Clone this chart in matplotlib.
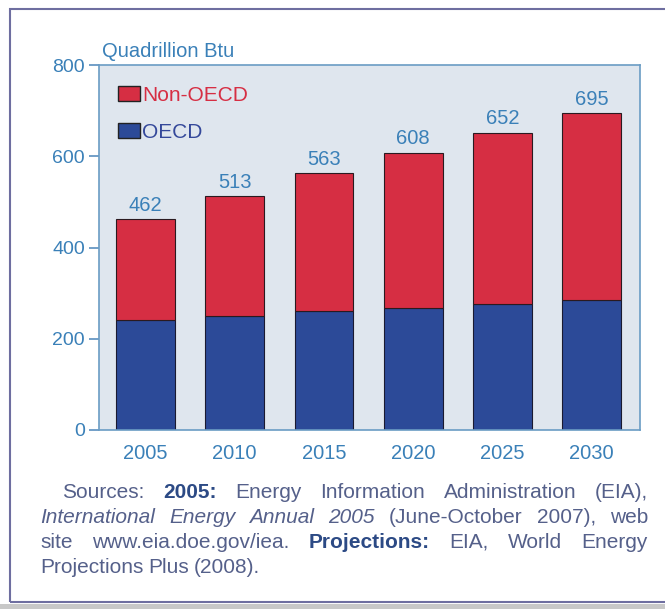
import matplotlib.pyplot as plt
from matplotlib.patches import Patch, Rectangle

years = ['2005', '2010', '2015', '2020', '2025', '2030']
oecd = [241, 250, 260, 268, 276, 284]
non_oecd = [221, 263, 303, 340, 376, 411]
totals = [462, 513, 563, 608, 652, 695]

red = '#d62e43'
blue = '#2c4a98'
txt_blue = '#3a80b8'
plt.rcParams['font.family'] = ['Liberation Sans', 'DejaVu Sans']

W, H = 665, 609
fig = plt.figure(figsize=(W / 100, H / 100), dpi=100)
ax = fig.add_axes([99 / W, 1 - 430 / H, (640 - 99) / W, (430 - 65) / H])
ax.set_facecolor('#dfe6ee')

x = list(range(len(years)))
ax.bar(x, oecd, width=0.66, color=blue, edgecolor='#1a1a30', linewidth=0.8)
ax.bar(x, non_oecd, bottom=oecd, width=0.66, color=red, edgecolor='#2a1a20', linewidth=0.8)
for i, t in enumerate(totals):
    ax.annotate(str(t), (x[i], t), xytext=(0, 6), textcoords='offset points',
                ha='center', va='baseline', color=txt_blue, fontsize=14.5)

ax.set_xlim(-0.52, 5.54)
ax.set_ylim(0, 800)
ax.set_yticks([0, 200, 400, 600, 800])
ax.set_xticks(x)
ax.set_xticklabels(years)
ax.tick_params(axis='y', colors='#5a8fbf', labelcolor=txt_blue, labelsize=14, length=7, width=1.2, pad=3)
ax.tick_params(axis='x', length=0, labelcolor=txt_blue, labelsize=14.5, pad=10)
for s in ax.spines.values():
    s.set_color('#6a9cc4')
    s.set_linewidth(1.2)

ax.text(3 / 541, 1.022, 'Quadrillion Btu', transform=ax.transAxes, color=txt_blue, fontsize=14.5, va='baseline')

leg = ax.legend(handles=[Patch(fc=red, ec='#222'), Patch(fc=blue, ec='#222')],
                labels=['Non-OECD', 'OECD'], labelcolor=[red, '#34489a'],
                loc='upper left', bbox_to_anchor=(0.028, 0.955), frameon=False,
                fontsize=15, handlelength=1.05, handleheight=0.7, handletextpad=0.1,
                labelspacing=0.86, borderaxespad=0.0, borderpad=0.2)

# outer frame and bottom strip
fig.patches.append(Rectangle((10 / W, 1 - 602 / H), 1, (602 - 9) / H, transform=fig.transFigure,
                             fill=False, ec='#6e6ea0', lw=1.5))
fig.patches.append(Rectangle((0, 0), 1, 5 / H, transform=fig.transFigure,
                             fc='#c8c8c8', ec='none'))

# justified source note
lines = [
    [('Sources:', 'normal', 'normal'), ('2005:', 'bold', 'normal'), ('Energy', 'normal', 'normal'),
     ('Information', 'normal', 'normal'), ('Administration', 'normal', 'normal'), ('(EIA),', 'normal', 'normal')],
    [('International', 'normal', 'italic'), ('Energy', 'normal', 'italic'), ('Annual', 'normal', 'italic'),
     ('2005', 'normal', 'italic'), ('(June-October', 'normal', 'normal'), ('2007),', 'normal', 'normal'),
     ('web', 'normal', 'normal')],
    [('site', 'normal', 'normal'), ('www.eia.doe.gov/iea.', 'normal', 'normal'), ('Projections:', 'bold', 'normal'),
     ('EIA,', 'normal', 'normal'), ('World', 'normal', 'normal'), ('Energy', 'normal', 'normal')],
    [('Projections', 'normal', 'normal'), ('Plus', 'normal', 'normal'), ('(2008).', 'normal', 'normal')],
]
starts = [62, 40, 40, 40]
ys = [498, 523, 548, 573]
right = 648
renderer = fig.canvas.get_renderer()
for li, line in enumerate(lines):
    objs = []
    for word, wt, st in line:
        col = '#2c4a85' if wt == 'bold' else '#55608a'
        t = fig.text(0, 1 - ys[li] / H, word, fontsize=15, fontweight=wt, fontstyle=st,
                     color=col, va='baseline', ha='left')
        objs.append(t)
    widths = [o.get_window_extent(renderer).width for o in objs]
    if li < len(lines) - 1:
        gap = (right - starts[li] - sum(widths)) / (len(objs) - 1)
    else:
        gap = 5
    cur = starts[li]
    for o, w in zip(objs, widths):
        o.set_x(cur / W)
        cur += w + gap

fig.savefig('out.png', dpi=100)
